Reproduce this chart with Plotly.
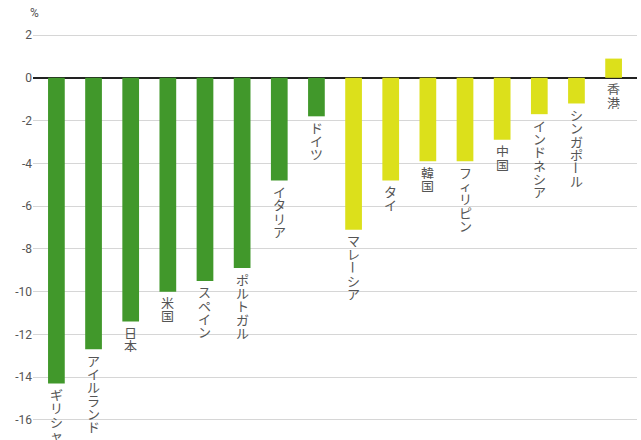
import plotly.graph_objects as go

# Countries / regions and their values (%)
countries = ["ギリシャ", "アイルランド", "日本", "米国", "スペイン", "ポルトガル", "イタリア", "ドイツ",
             "マレーシア", "タイ", "韓国", "フィリピン", "中国", "インドネシア", "シンガポール", "香港"]
values = [-14.3, -12.7, -11.4, -10.0, -9.5, -8.9, -4.8, -1.8,
          -7.1, -4.8, -3.9, -3.9, -2.9, -1.7, -1.2, 0.9]
groups = ["先進国"] * 8 + ["アジア"] * 8

tick_vals = [2, 0, -2, -4, -6, -8, -10, -12, -14, -16]
tick_text = ["2", "0", "-2", "-4", "-6", "-8", "-10", "-12", "-14", "-16"]

group_colors = {"先進国": "#41982b", "アジア": "#dce01b"}
bar_colors = [group_colors[g] for g in groups]

label_font = dict(family="Noto Sans CJK JP, Noto Sans, sans-serif", size=13, color="#555555")

fig = go.Figure()
fig.add_trace(go.Bar(
    x=list(range(len(countries))),
    y=values,
    width=0.45,
    marker=dict(color=bar_colors, line=dict(width=0)),
    hovertext=countries,
    hoverinfo="text+y",
    showlegend=False,
))

# Vertical (top-to-bottom) labels below each bar end, one glyph per cell
annotations = []
first_offset = 11.0
step = 13.3
for i, (name, v) in enumerate(zip(countries, values)):
    base = min(v, 0)
    for k, ch in enumerate(name):
        annotations.append(dict(
            x=i, y=base, xref="x", yref="y",
            text=ch, showarrow=False,
            xanchor="center", yanchor="middle",
            yshift=-(first_offset + k * step),
            textangle=90 if ch == "ー" else 0,
            height=13, borderpad=0,
            font=label_font,
        ))

# Unit label above the value axis
plot_w = 641 - 33 - 4
plot_h = 440 - 34 - 19
annotations.append(dict(
    xref="paper", yref="paper", x=(34 - 33) / plot_w, y=1 + (34 - 13) / plot_h,
    text="%", showarrow=False, xanchor="center", yanchor="middle",
    font=dict(family="Roboto, Noto Sans, sans-serif", size=12, color="#555555"),
))

fig.update_layout(
    width=641, height=440,
    margin=dict(l=33, r=4, t=34, b=19),
    paper_bgcolor="white", plot_bgcolor="white",
    bargap=0.55,
    xaxis=dict(
        range=[-0.63, len(countries) - 1 + 0.63],
        showticklabels=False, showgrid=False, zeroline=False, ticks="",
        fixedrange=True,
    ),
    yaxis=dict(
        range=[-16.05, 2.05],
        tickmode="array", tickvals=tick_vals, ticktext=tick_text,
        showgrid=True, gridcolor="#d6d6d6", gridwidth=1,
        zeroline=True, zerolinecolor="#222222", zerolinewidth=1.5,
        ticks="", ticklen=0,
        tickfont=dict(family="Roboto, Noto Sans, sans-serif", size=12, color="#555555"),
        fixedrange=True,
    ),
    annotations=annotations,
)

fig.write_html("out.html")
